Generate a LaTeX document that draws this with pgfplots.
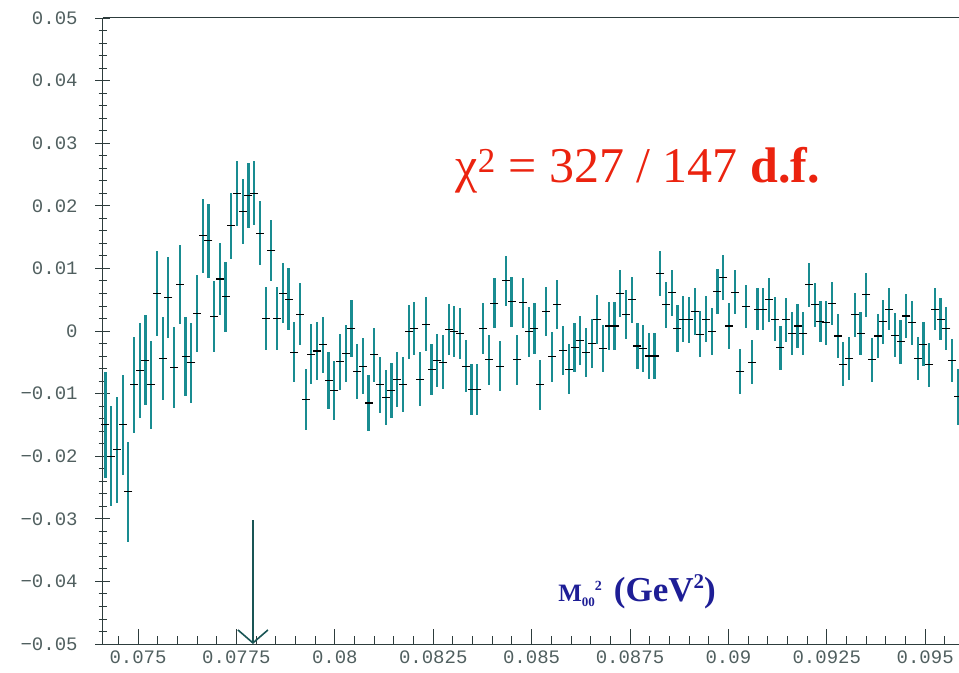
\documentclass[border=0pt]{standalone}
\usepackage{pgfplots}
\pgfplotsset{compat=1.18}
\usepackage{pgfplotstable}
\usepackage{fontspec}
\setmainfont{Liberation Serif}
\newfontfamily\tickfont{Liberation Mono}
\usetikzlibrary{arrows.meta}

\definecolor{axiscol}{RGB}{45,60,60}
\definecolor{tickcol}{RGB}{80,95,95}
\definecolor{barcol}{RGB}{25,140,145}
\definecolor{arrowcol}{RGB}{25,85,85}
\definecolor{chired}{RGB}{235,35,15}
\definecolor{labblue}{RGB}{30,30,150}

% bin centre, deviation, statistical error
\pgfplotstableread{
x y e
0.074173 -0.0150 0.0085
0.074318 -0.0200 0.0080
0.074464 -0.0190 0.0085
0.074609 -0.0150 0.0080
0.074754 -0.0257 0.0080
0.074900 -0.0086 0.0077
0.075045 -0.0063 0.0076
0.075190 -0.0047 0.0072
0.075336 -0.0086 0.0070
0.075481 0.0060 0.0068
0.075626 -0.0044 0.0067
0.075771 0.0054 0.0065
0.075917 -0.0058 0.0065
0.076062 0.0074 0.0063
0.076207 -0.0041 0.0063
0.076353 -0.0051 0.0064
0.076498 0.0028 0.0061
0.076643 0.0152 0.0059
0.076789 0.0144 0.0059
0.076934 0.0023 0.0057
0.077080 0.0083 0.0057
0.077225 0.0055 0.0056
0.077371 0.0168 0.0053
0.077516 0.0219 0.0052
0.077661 0.0191 0.0052
0.077807 0.0217 0.0052
0.077952 0.0220 0.0051
0.078097 0.0156 0.0051
0.078243 0.0020 0.0051
0.078388 0.0129 0.0049
0.078533 0.0020 0.0051
0.078678 0.0060 0.0048
0.078824 0.0051 0.0049
0.078969 -0.0034 0.0048
0.079114 0.0027 0.0049
0.079260 -0.0109 0.0049
0.079405 -0.0037 0.0048
0.079550 -0.0032 0.0047
0.079696 -0.0022 0.0045
0.079841 -0.0079 0.0045
0.079986 -0.0095 0.0047
0.080131 -0.0049 0.0045
0.080277 -0.0036 0.0045
0.080422 0.0004 0.0045
0.080567 -0.0065 0.0044
0.080713 -0.0056 0.0045
0.080858 -0.0115 0.0044
0.081003 -0.0038 0.0043
0.081149 -0.0086 0.0045
0.081294 -0.0106 0.0044
0.081440 -0.0095 0.0044
0.081585 -0.0077 0.0044
0.081731 -0.0086 0.0044
0.081876 -0.0001 0.0043
0.082021 0.0004 0.0043
0.082167 -0.0077 0.0043
0.082312 0.0011 0.0043
0.082457 -0.0062 0.0041
0.082603 -0.0047 0.0043
0.082748 -0.0050 0.0043
0.082893 0.0002 0.0041
0.083038 -0.0001 0.0041
0.083184 -0.0004 0.0041
0.083329 -0.0056 0.0041
0.083474 -0.0093 0.0041
0.083620 -0.0093 0.0041
0.083765 0.0004 0.0041
0.083910 -0.0046 0.0040
0.084056 0.0044 0.0040
0.084201 -0.0056 0.0040
0.084346 0.0080 0.0040
0.084491 0.0047 0.0040
0.084637 -0.0046 0.0040
0.084782 0.0045 0.0040
0.084927 -0.0001 0.0040
0.085073 0.0004 0.0040
0.085218 -0.0086 0.0040
0.085363 0.0031 0.0039
0.085509 -0.0041 0.0040
0.085654 0.0042 0.0039
0.085799 -0.0031 0.0039
0.085944 -0.0061 0.0040
0.086090 -0.0026 0.0039
0.086235 -0.0015 0.0039
0.086380 -0.0034 0.0039
0.086526 -0.0020 0.0039
0.086671 0.0019 0.0039
0.086816 -0.0028 0.0037
0.086962 0.0008 0.0039
0.087107 0.0008 0.0039
0.087253 0.0060 0.0037
0.087398 0.0027 0.0039
0.087544 0.0050 0.0037
0.087689 -0.0024 0.0037
0.087834 -0.0028 0.0037
0.087980 -0.0040 0.0037
0.088125 -0.0040 0.0037
0.088270 0.0092 0.0036
0.088416 0.0042 0.0037
0.088561 0.0061 0.0037
0.088706 0.0004 0.0037
0.088851 0.0019 0.0037
0.088997 0.0018 0.0037
0.089142 0.0031 0.0037
0.089287 -0.0005 0.0037
0.089433 0.0019 0.0037
0.089578 -0.0001 0.0037
0.089723 0.0063 0.0036
0.089869 0.0086 0.0036
0.090014 0.0008 0.0036
0.090159 0.0062 0.0035
0.090304 -0.0064 0.0036
0.090450 0.0039 0.0035
0.090595 -0.0050 0.0035
0.090740 0.0035 0.0033
0.090886 0.0035 0.0033
0.091031 0.0050 0.0035
0.091176 0.0019 0.0035
0.091322 -0.0027 0.0035
0.091467 0.0018 0.0035
0.091613 -0.0004 0.0035
0.091758 0.0008 0.0035
0.091904 -0.0004 0.0035
0.092049 0.0074 0.0035
0.092194 0.0042 0.0035
0.092340 0.0015 0.0033
0.092485 0.0013 0.0035
0.092630 0.0044 0.0035
0.092776 -0.0008 0.0035
0.092921 -0.0053 0.0035
0.093066 -0.0044 0.0035
0.093211 0.0026 0.0035
0.093357 -0.0004 0.0035
0.093502 0.0058 0.0035
0.093647 -0.0046 0.0035
0.093793 -0.0008 0.0035
0.093938 0.0015 0.0035
0.094083 0.0035 0.0033
0.094229 -0.0007 0.0035
0.094374 -0.0017 0.0035
0.094519 0.0024 0.0035
0.094664 0.0013 0.0035
0.094810 -0.0044 0.0035
0.094955 -0.0021 0.0035
0.095100 -0.0054 0.0035
0.095246 0.0035 0.0033
0.095391 0.0019 0.0033
0.095536 0.0004 0.0035
0.095682 -0.0047 0.0035
0.095827 -0.0105 0.0045
}\deviation

\begin{document}
\begin{tikzpicture}
\begin{axis}[
  scale only axis,
  width=858pt, height=626pt,
  xmin=0.0741, xmax=0.0959,
  ymin=-0.05, ymax=0.05,
  scaled ticks=false,
  axis x line=box, axis y line=left,
  axis line style={-, draw=axiscol, line width=1pt},
  xtick pos=left, ytick pos=left,
  xtick={0.075,0.0775,0.08,0.0825,0.085,0.0875,0.09,0.0925,0.095},
  xticklabels={0.075,0.0775,0.08,0.0825,0.085,0.0875,0.09,0.0925,0.095},
  minor xtick={0.0745,0.0750,...,0.0955},
  ytick={-0.05,-0.04,-0.03,-0.02,-0.01,0,0.01,0.02,0.03,0.04,0.05},
  yticklabels={−0.05,−0.04,−0.03,−0.02,−0.01,0,0.01,0.02,0.03,0.04,0.05},
  minor ytick={-0.048,-0.046,...,0.048},
  tick style={draw=axiscol, line width=0.9pt},
  major tick length=15pt, minor tick length=8pt,
  tick label style={font=\tickfont\fontsize{19}{19}\selectfont, text=tickcol},
  yticklabel style={xshift=-14pt},
  xticklabel style={yshift=-3pt},
]
\coordinate (SW) at (rel axis cs:0,0);
\coordinate (NE) at (rel axis cs:1,1);

\addplot[only marks, mark=-, mark size=4pt,
  mark options={draw=black, line width=1.1pt},
  error bars/.cd, y dir=both, y explicit, error mark=none,
  error bar style={draw=barcol, line width=2.2pt}]
  table[x=x, y=y, y error=e] {\deviation};

% threshold marker at 4 m_pi+^2
\addplot[draw=arrowcol, line width=1.6pt,
  -{Straight Barb[length=13pt, width=30pt, line width=1.6pt]}]
  coordinates {(0.07792,-0.0302) (0.07792,-0.05)};

\node[anchor=base, text=chired, font=\fontsize{50}{50}\selectfont]
  at (axis cs:0.08770,0.0238) {χ\textsuperscript{2} = 327 / 147 \textbf{d.f.}};

\node[anchor=base, text=labblue, font=\bfseries] at (axis cs:0.08768,-0.04313)
  {\fontsize{25}{25}\selectfont M\raisebox{-5pt}{\fontsize{13}{13}\selectfont 00}\raisebox{11pt}{\fontsize{14}{14}\selectfont 2}\hspace{12pt}\fontsize{35}{35}\selectfont (GeV\raisebox{13pt}{\fontsize{21}{21}\selectfont 2})};
\end{axis}
\pgfresetboundingbox
\path[use as bounding box] ([xshift=-102.6pt,yshift=-28pt]SW) rectangle ([xshift=-1.6pt,yshift=18pt]NE);
\end{tikzpicture}
\end{document}
